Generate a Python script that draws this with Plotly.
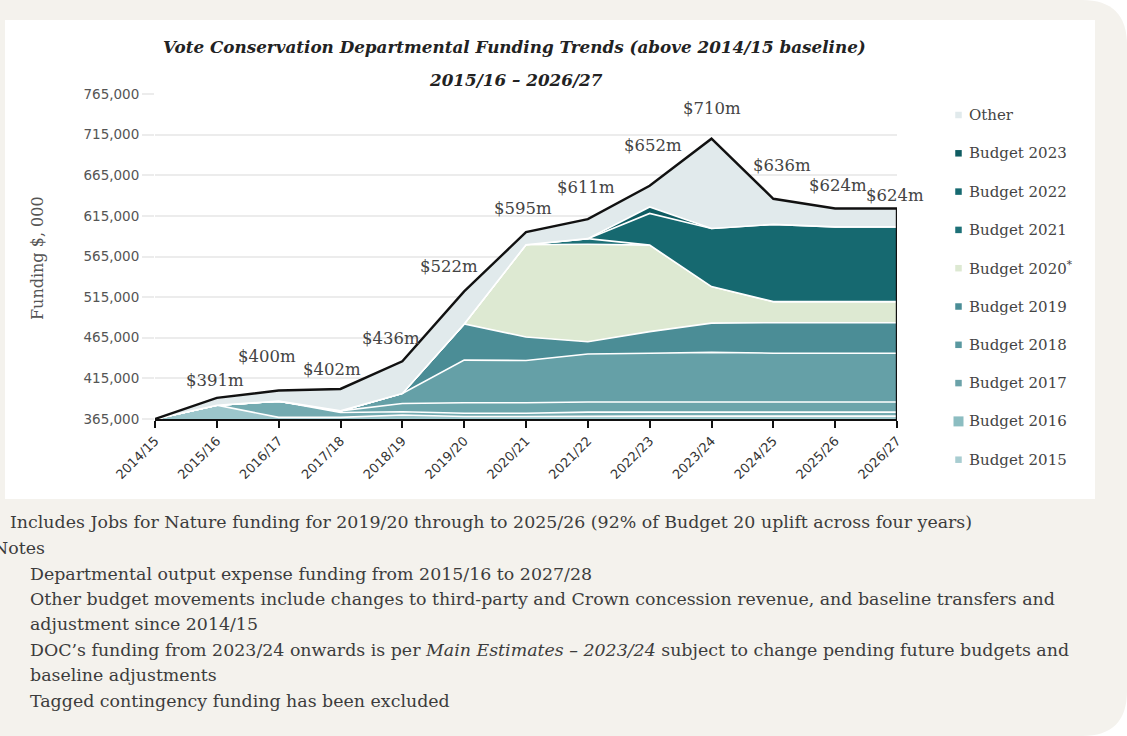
import plotly.graph_objects as go

# ---- data ($000) ----
years = ["2014/15", "2015/16", "2016/17", "2017/18", "2018/19", "2019/20", "2020/21",
         "2021/22", "2022/23", "2023/24", "2024/25", "2025/26", "2026/27"]
baseline = [365000] * len(years)
budget_2015 = [0, 17000, 2000, 2000, 5000, 3000, 3000, 3500, 3500, 3500, 3500, 3500, 3500]
budget_2016 = [0, 0, 20000, 6000, 4000, 4000, 4000, 5000, 5000, 5000, 5000, 5000, 5000]
budget_2017 = [0, 0, 0, 2000, 10000, 13000, 13000, 12500, 12500, 12500, 12500, 12500, 12500]
budget_2018 = [0, 0, 0, 0, 12500, 52500, 52000, 59000, 60000, 61000, 60000, 60000, 60000]
budget_2019 = [0, 0, 0, 0, 0, 44500, 29000, 15000, 26500, 36000, 37500, 37500, 37500]
budget_2020 = [0, 0, 0, 0, 0, 0, 113500, 120000, 106500, 45000, 26000, 26000, 26000]
budget_2021 = [0, 0, 0, 0, 0, 0, 0, 7000, 0, 0, 0, 0, 0]
budget_2022 = [0, 0, 0, 0, 0, 0, 0, 0, 39000, 71500, 95000, 92000, 92000]
budget_2023 = [0, 0, 0, 0, 0, 0, 0, 0, 8000, 0, 0, 0, 0]
other = [0, 9000, 13000, 27000, 39500, 40000, 15500, 24000, 26000, 110500, 31500, 22500, 22500]
totals = [365000, 391000, 400000, 402000, 436000, 522000, 595000, 611000, 652000,
          710000, 636000, 624000, 624000]
y_ticks = [365000, 415000, 465000, 515000, 565000, 615000, 665000, 715000, 765000]

series = [
    ("Budget 2015", budget_2015, "#9cc6cb"),
    ("Budget 2016", budget_2016, "#74abb1"),
    ("Budget 2017", budget_2017, "#6ca5ab"),
    ("Budget 2018", budget_2018, "#65a0a7"),
    ("Budget 2019", budget_2019, "#4b8d96"),
    ("Budget 2020", budget_2020, "#dde9d2"),
    ("Budget 2021", budget_2021, "#1d7077"),
    ("Budget 2022", budget_2022, "#166970"),
    ("Budget 2023", budget_2023, "#0f5c62"),
    ("Other", other, "#e1eaec"),
]
legend_colors = {"Budget 2015": "#a8cdd1", "Budget 2016": "#8cbdc1", "Budget 2017": "#6ba2a9",
                 "Budget 2018": "#5a98a0", "Budget 2019": "#4a8d96"}

# ---- page geometry (pixels) ----
W, H = 1127, 736
PX0, PX1 = 155, 897      # plot area left/right
PY0, PY1 = 94, 419       # plot area top/bottom


def fx(x):
    return x / W


def fy(y):
    return 1 - y / H


SERIF = "DejaVu Serif"
SANS = "DejaVu Sans"
TEXT = "#3c3c3c"

fig = go.Figure()

# invisible base so the budget layers stack on top of the 2014/15 baseline
fig.add_trace(go.Scatter(x=years, y=baseline, stackgroup="s", mode="lines",
                         line=dict(width=0), fillcolor="rgba(0,0,0,0)",
                         hoverinfo="skip", showlegend=False))
for name, vals, col in series:
    fig.add_trace(go.Scatter(x=years, y=vals, name=name, stackgroup="s", mode="lines",
                             line=dict(color="white", width=1.6), fillcolor=col,
                             showlegend=False))

# total funding outline
fig.add_trace(go.Scatter(x=years, y=totals, mode="lines",
                         line=dict(color="#111111", width=2.4), showlegend=False,
                         hoverinfo="skip"))

shapes = []
# outer beige card with rounded right corners
r = 45
card = (f"M {fx(-2)} {fy(0)} L {fx(W - r)} {fy(0)} "
        f"Q {fx(W)} {fy(0)} {fx(W)} {fy(r)} "
        f"L {fx(W)} {fy(736 - r)} Q {fx(W)} {fy(736)} {fx(W - r)} {fy(736)} "
        f"L {fx(-2)} {fy(736)} Z")
shapes.append(dict(type="path", path=card, xref="paper", yref="paper",
                   fillcolor="#f4f2ed", line=dict(width=0), layer="below"))
# white chart panel
shapes.append(dict(type="rect", xref="paper", yref="paper",
                   x0=fx(5), x1=fx(1095), y0=fy(499), y1=fy(20),
                   fillcolor="white", line=dict(width=0), layer="below"))
# right-hand closing edge of the area
shapes.append(dict(type="line", xref="x", yref="y",
                   x0=len(years) - 1, x1=len(years) - 1, y0=baseline[-1], y1=totals[-1],
                   line=dict(color="#111111", width=2.4)))

annotations = []
# title
annotations.append(dict(xref="paper", yref="paper", x=fx(514), y=fy(47),
                        xanchor="center", yanchor="middle",
                        text="<b><i>Vote Conservation Departmental Funding Trends (above 2014/15 baseline)</i></b>",
                        showarrow=False, font=dict(family=SERIF, size=16.8, color="#222222")))
annotations.append(dict(xref="paper", yref="paper", x=fx(516), y=fy(80),
                        xanchor="center", yanchor="middle",
                        text="<b><i>2015/16 – 2026/27</i></b>",
                        showarrow=False, font=dict(family=SERIF, size=16.8, color="#222222")))
# y axis title
annotations.append(dict(xref="paper", yref="paper", x=fx(37), y=fy(258),
                        xanchor="center", yanchor="middle",
                        text="Funding $, 000", textangle=-90, showarrow=False,
                        font=dict(family=SERIF, size=16, color="#555555")))

# total value labels
label_shift = [(0, 0), (-2, 17), (-12, 34), (-9, 19), (-11, 23), (-15, 25), (-3, 24),
               (-2, 32), (3, 40), (0, 30), (9, 33), (3, 23), (-2, 13)]
for i, (yr, t) in enumerate(zip(years, totals)):
    if i == 0:
        continue
    dx, dy = label_shift[i]
    annotations.append(dict(x=yr, y=t, xref="x", yref="y", text=f"${t / 1000:.0f}m",
                            xanchor="center", yanchor="middle",
                            showarrow=False, xshift=dx, yshift=dy,
                            font=dict(family=SERIF, size=16.5, color="#444444")))

# legend (top to bottom)
legend_rows = list(reversed(series))
for k, (name, vals, col) in enumerate(legend_rows):
    yc = 115 + k * 38.3
    sz = 10 if name == "Budget 2016" else 6.5
    cx = 958.5
    shapes.append(dict(type="rect", xref="paper", yref="paper",
                       x0=fx(cx - sz / 2), x1=fx(cx + sz / 2),
                       y0=fy(yc + sz / 2), y1=fy(yc - sz / 2),
                       fillcolor=legend_colors.get(name, col), line=dict(width=0)))
    label = name + ("<sup>*</sup>" if name == "Budget 2020" else "")
    annotations.append(dict(xref="paper", yref="paper", x=fx(967), y=fy(yc),
                            xanchor="left", yanchor="middle", text=label, showarrow=False,
                            font=dict(family=SERIF, size=15, color="#444444")))

# footnotes
notes = [
    (8, 522, "Includes Jobs for Nature funding for 2019/20 through to 2025/26 (92% of Budget 20 uplift across four years)"),
    (-9, 548, "Notes"),
    (28, 574, "Departmental output expense funding from 2015/16 to 2027/28"),
    (28, 599, "Other budget movements include changes to third-party and Crown concession revenue, and baseline transfers and"),
    (28, 624, "adjustment since 2014/15"),
    (28, 650, "DOC’s funding from 2023/24 onwards is per <i>Main Estimates – 2023/24</i> subject to change pending future budgets and"),
    (28, 675, "baseline adjustments"),
    (28, 701, "Tagged contingency funding has been excluded"),
]
for x0, yc, txt in notes:
    annotations.append(dict(xref="paper", yref="paper", x=fx(x0), y=fy(yc),
                            xanchor="left", yanchor="middle", text=txt, showarrow=False,
                            font=dict(family=SERIF, size=17.4, color=TEXT)))

fig.update_layout(
    width=W, height=H,
    margin=dict(l=0, r=0, t=0, b=0),
    paper_bgcolor="white",
    plot_bgcolor="rgba(0,0,0,0)",
    showlegend=False,
    shapes=shapes,
    annotations=annotations,
    xaxis=dict(domain=[fx(PX0), fx(PX1)], type="category", range=[0, len(years) - 1],
               showgrid=False, zeroline=False, showline=True, linecolor="#111111",
               linewidth=2.4, ticks="outside", ticklen=7, tickwidth=2, tickcolor="#111111",
               tickangle=-45, tickfont=dict(family=SANS, size=13, color="#333333"),
               automargin=False, fixedrange=True),
    yaxis=dict(domain=[fy(PY1), fy(PY0)], range=[365000, 765000], tickvals=y_ticks,
               tickformat=",d", showgrid=True, gridcolor="#ececec", gridwidth=2,
               zeroline=False, showline=False, ticks="outside", ticklen=12,
               tickcolor="#ececec", tickwidth=2,
               tickfont=dict(family=SANS, size=13.5, color="#555555"),
               automargin=False, fixedrange=True),
)

fig.write_html("out.html")
